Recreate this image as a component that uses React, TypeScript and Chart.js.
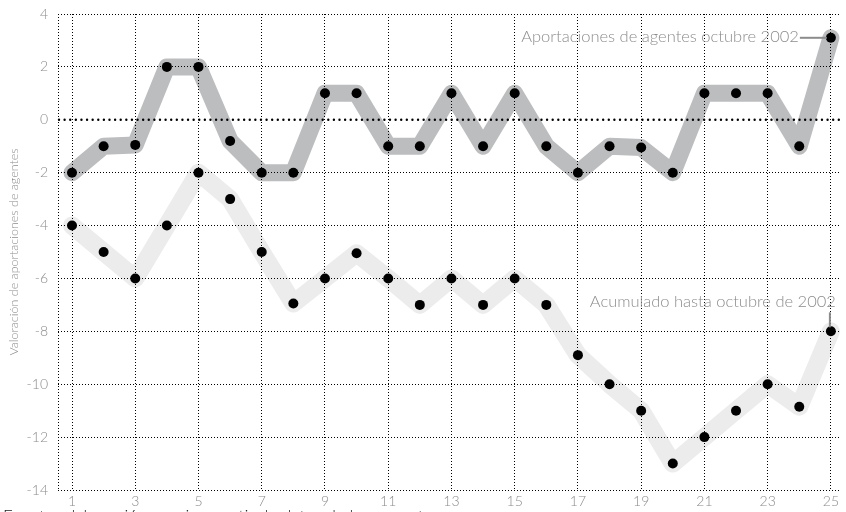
import React, { useEffect, useRef } from "react";
import { Chart, registerables } from "chart.js";

Chart.register(...registerables);

const periods = [1, 2, 3, 4, 5, 6, 7, 8, 9, 10, 11, 12, 13, 14, 15, 16, 17, 18, 19, 20, 21, 22, 23, 24, 25];
const aportaciones = [-2, -1, -0.95, 2, 2, -0.8, -2, -2, 1, 1, -1, -1, 1, -1, 1, -1, -2, -1, -1.05, -2, 1, 1, 1, -1, 3.1];
const acumulado = [-4, -5, -6, -4, -2, -3, -5, -6.95, -6, -5.05, -6, -7, -6, -7, -6, -7, -8.9, -10, -11, -13, -12, -11, -10, -10.85, -8];
const xTickValues = [1, 3, 5, 7, 9, 11, 13, 15, 17, 19, 21, 23, 25];
const yTickValues = [4, 2, 0, -2, -4, -6, -8, -10, -12, -14];

const labelAportaciones = "Aportaciones de agentes octubre 2002";
const labelAcumulado = "Acumulado hasta octubre de 2002";
const yTitle = "Valoración de aportaciones de agentes";
const sourceText = "Fuente: elaboración propia a partir de datos de la encuesta";

const FONT = "Lato, 'Open Sans', sans-serif";
const GRAY = "#8c8c8c";

const toPoints = (vals: number[]) => vals.map((v, i) => ({ x: periods[i], y: v }));

const overlayPlugin = {
  id: "overlay",
  afterDatasetsDraw(chart: any) {
    const { ctx, chartArea, scales } = chart;
    const y = scales.y;
    ctx.save();
    const y0 = y.getPixelForValue(0);
    ctx.strokeStyle = "#000";
    ctx.lineWidth = 2.4;
    ctx.lineCap = "round";
    ctx.setLineDash([0.01, 5.6]);
    ctx.beginPath();
    ctx.moveTo(chartArea.left + 1, y0);
    ctx.lineTo(chartArea.right, y0);
    ctx.stroke();
    ctx.lineWidth = 1;
    ctx.lineCap = "butt";
    ctx.setLineDash([1, 2]);
    ctx.beginPath();
    ctx.moveTo(chartArea.left + 0.5, chartArea.top);
    ctx.lineTo(chartArea.left + 0.5, chartArea.bottom);
    ctx.stroke();
    ctx.restore();
  },
  afterDraw(chart: any) {
    const { ctx, scales } = chart;
    const x = scales.x;
    const y = scales.y;
    const last = periods.length - 1;
    ctx.save();
    const px1 = x.getPixelForValue(periods[last]);
    const py1 = y.getPixelForValue(aportaciones[last]);
    ctx.strokeStyle = GRAY;
    ctx.lineWidth = 2;
    ctx.beginPath();
    ctx.moveTo(px1 - 31, py1);
    ctx.lineTo(px1 - 4, py1);
    ctx.stroke();
    ctx.fillStyle = GRAY;
    ctx.font = `300 16.5px ${FONT}`;
    ctx.textAlign = "right";
    ctx.textBaseline = "middle";
    ctx.fillText(labelAportaciones, px1 - 32, py1 - 1);
    const px2 = x.getPixelForValue(periods[last]);
    const py2 = y.getPixelForValue(acumulado[last]);
    ctx.beginPath();
    ctx.moveTo(px2 - 1, py2 - 19);
    ctx.lineTo(px2 - 1, py2 - 4);
    ctx.stroke();
    ctx.textAlign = "right";
    ctx.textBaseline = "alphabetic";
    ctx.fillText(labelAcumulado, px2 + 5, py2 - 24);
    ctx.fillStyle = "#222";
    ctx.font = `300 17px ${FONT}`;
    ctx.textAlign = "left";
    ctx.textBaseline = "top";
    ctx.fillText(sourceText, 3, 509);
    ctx.restore();
  },
};

export default function App() {
  const ref = useRef<HTMLCanvasElement | null>(null);
  useEffect(() => {
    if (!ref.current) return;
    const chart = new Chart(ref.current, {
      type: "line",
      data: {
        datasets: [
          {
            label: "Aportaciones banda",
            data: toPoints(aportaciones),
            borderColor: "#bcbdbf",
            borderWidth: 17,
            borderJoinStyle: "round",
            borderCapStyle: "round",
            pointRadius: 0,
            fill: false,
            order: 3,
          },
          {
            label: "Acumulado banda",
            data: toPoints(acumulado),
            borderColor: "#ececed",
            borderWidth: 18,
            borderJoinStyle: "round",
            borderCapStyle: "round",
            pointRadius: 0,
            fill: false,
            order: 4,
          },
          {
            label: "Aportaciones",
            data: toPoints(aportaciones),
            showLine: false,
            pointRadius: 5,
            pointBackgroundColor: "#000",
            pointBorderWidth: 0,
            order: 1,
          },
          {
            label: "Acumulado",
            data: toPoints(acumulado),
            showLine: false,
            pointRadius: 5,
            pointBackgroundColor: "#000",
            pointBorderWidth: 0,
            order: 2,
          },
        ],
      },
      options: {
        animation: false,
        responsive: false,
        layout: { padding: { top: 14, right: 0, bottom: 0, left: 0 } },
        plugins: { legend: { display: false }, tooltip: { enabled: false } },
        scales: {
          x: {
            type: "linear",
            min: 0.557,
            max: 25.32,
            afterBuildTicks: (s: any) => {
              s.ticks = xTickValues.map((v) => ({ value: v }));
            },
            afterFit: (s: any) => {
              s.height = 22;
              s.paddingLeft = 0;
              s.paddingRight = 0;
            },
            grid: { color: "#000", lineWidth: 1, drawTicks: false, z: 1 },
            border: { display: false, dash: [1, 2] },
            ticks: { color: GRAY, font: { family: FONT, size: 14, weight: "300" }, padding: 3, maxRotation: 0, autoSkip: false },
          },
          y: {
            type: "linear",
            min: -14,
            max: 4,
            afterBuildTicks: (s: any) => {
              s.ticks = yTickValues.map((v) => ({ value: v }));
            },
            afterFit: (s: any) => {
              s.width = 58;
              s.paddingTop = 0;
              s.paddingBottom = 0;
            },
            grid: {
              color: (c: any) => (c.tick && c.tick.value === 0 ? "rgba(0,0,0,0)" : "#000"),
              lineWidth: 1,
              drawTicks: false,
              z: 1,
            },
            border: { display: false, dash: [1, 2] },
            title: { display: true, text: yTitle, color: GRAY, font: { family: FONT, size: 12.5, weight: "300" }, padding: 6 },
            ticks: { color: GRAY, font: { family: FONT, size: 14, weight: "300" }, padding: 10 },
          },
        },
      },
      plugins: [overlayPlugin],
    } as any);
    return () => chart.destroy();
  }, []);
  return (
    <div style={{ position: "fixed", left: 0, top: 0, width: 846, height: 512, background: "#fff", overflow: "hidden" }}>
      <canvas ref={ref} width={846} height={512} style={{ display: "block" }} />
    </div>
  );
}
